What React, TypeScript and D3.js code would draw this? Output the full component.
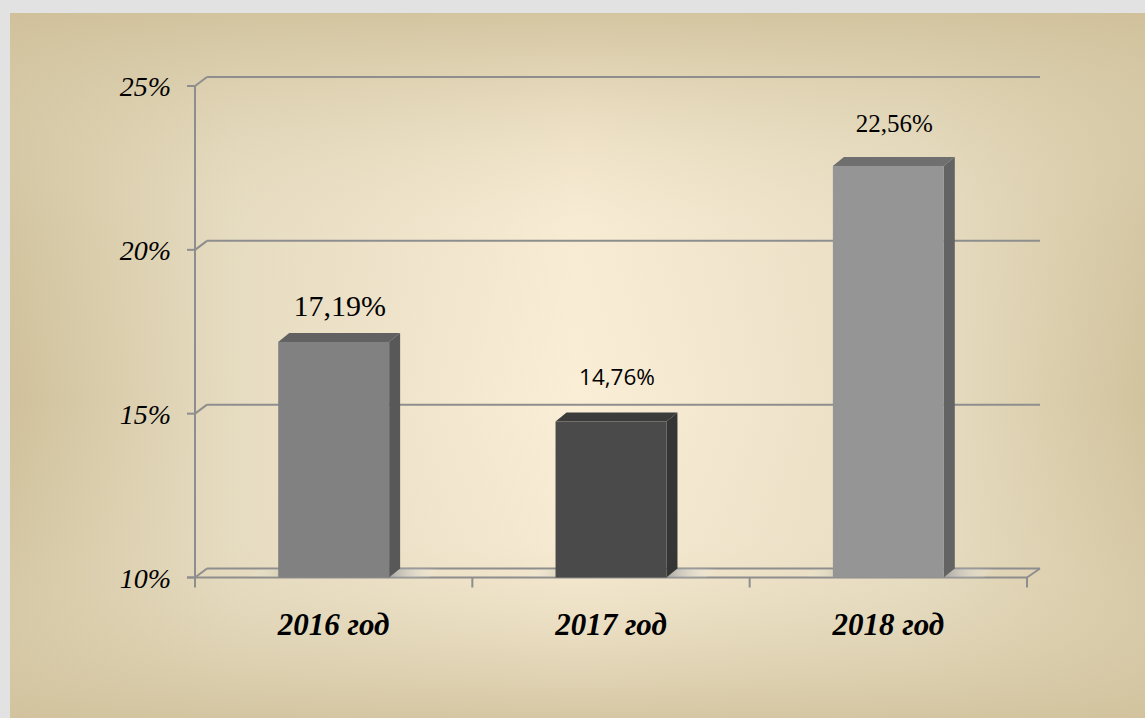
import React from "react";
import * as d3 from "d3";

const categories = ["2016 год", "2017 год", "2018 год"];
const values = [17.19, 14.76, 22.56];
const valueLabels = ["17,19%", "14,76%", "22,56%"];
const yTicks = [10, 15, 20, 25];
const yTickLabels = ["10%", "15%", "20%", "25%"];

const barColors = [
  { front: "#818181", top: "#616161", side: "#585858" },
  { front: "#4a4a4a", top: "#3b3b3b", side: "#353535" },
  { front: "#959595", top: "#6f6f6f", side: "#636363" },
];
const labelStyles = [
  { family: "'Liberation Serif', 'Times New Roman', serif", size: 30, gap: 26 },
  { family: "'Open Sans', 'Liberation Sans', Arial, sans-serif", size: 22.5, gap: 37 },
  { family: "'Liberation Serif', 'Times New Roman', serif", size: 25, gap: 34 },
];

const W = 1145;
const H = 718;
const left = 195;
const right = 1027;
const floorY = 577.5;
const topY = 86;
const dX = 12;
const dY = -9;
const bdX = 11;
const bdY = -9;
const axisColor = "#8e8e8e";

export default function App() {
  const x = d3.scaleBand<string>().domain(categories).range([left, right]).padding(0);
  const y = d3.scaleLinear().domain([10, 25]).range([floorY, topY]);
  const bw = x.bandwidth() * 0.4;

  return (
    <svg
      width={W}
      height={H}
      style={{ position: "fixed", left: 0, top: 0, display: "block" }}
    >
      <defs>
        <linearGradient id="bgH" x1="0" x2="1" y1="0" y2="0">
          <stop offset="0" stopColor="#d0c19b" />
          <stop offset="0.2" stopColor="#e6dcc1" />
          <stop offset="0.5" stopColor="#fbeed7" />
          <stop offset="0.8" stopColor="#e8dec3" />
          <stop offset="1" stopColor="#d2c39e" />
        </linearGradient>
        <linearGradient id="bgV" x1="0" x2="0" y1="0" y2="1">
          <stop offset="0" stopColor="#d0c19b" stopOpacity="0.9" />
          <stop offset="0.3" stopColor="#e6dcc1" stopOpacity="0.15" />
          <stop offset="0.55" stopColor="#e6dcc1" stopOpacity="0" />
          <stop offset="0.75" stopColor="#e6dcc1" stopOpacity="0.2" />
          <stop offset="1" stopColor="#d2c39e" stopOpacity="0.9" />
        </linearGradient>
        <linearGradient id="shadow" x1="0" x2="1" y1="0" y2="0">
          <stop offset="0" stopColor="#9a9a9a" stopOpacity="0.8" />
          <stop offset="1" stopColor="#ffffff" stopOpacity="0" />
        </linearGradient>
        <linearGradient id="shadowL" x1="1" x2="0" y1="0" y2="0">
          <stop offset="0" stopColor="#b0a890" stopOpacity="0.5" />
          <stop offset="1" stopColor="#ffffff" stopOpacity="0" />
        </linearGradient>
      </defs>
      <rect x={0} y={0} width={W} height={H} fill="#e2e2e2" />
      <rect x={10} y={13} width={W - 10} height={H - 13} fill="url(#bgH)" />
      <rect x={10} y={13} width={W - 10} height={H - 13} fill="url(#bgV)" />

      {/* gridlines: back wall + side wall */}
      {yTicks.map((t) => (
        <g key={"g" + t}>
          <line
            x1={left}
            y1={y(t)}
            x2={left + dX}
            y2={y(t) + dY}
            stroke={axisColor}
            strokeWidth={2}
          />
          <line
            x1={left + dX}
            y1={y(t) + dY}
            x2={right + dX + 1}
            y2={y(t) + dY}
            stroke={axisColor}
            strokeWidth={2}
          />
          <line x1={left - 8} y1={y(t)} x2={left} y2={y(t)} stroke={axisColor} strokeWidth={2} />
        </g>
      ))}
      {/* floor */}
      <line x1={left - 8} y1={floorY} x2={right} y2={floorY} stroke={axisColor} strokeWidth={2} />
      <line
        x1={right}
        y1={floorY}
        x2={right + dX + 1}
        y2={floorY + dY}
        stroke={axisColor}
        strokeWidth={2}
      />
      <line x1={left} y1={topY} x2={left} y2={floorY + 10} stroke={axisColor} strokeWidth={2} />
      {[...categories.map((c) => x(c)!), right].map((v, i) =>
        i === 0 ? null : (
          <line key={"ct" + i} x1={v} y1={floorY} x2={v} y2={floorY + 10} stroke={axisColor} strokeWidth={2} />
        )
      )}

      {/* bars */}
      {categories.map((c, i) => {
        const cx = x(c)! + x.bandwidth() / 2;
        const x0 = cx - bw / 2;
        const x1 = cx + bw / 2;
        const yt = y(values[i]);
        const col = barColors[i];
        return (
          <g key={c}>
            <polygon
              points={`${x1},${floorY} ${x1 + 40},${floorY} ${x1 + 40 + bdX},${floorY + bdY} ${x1 + bdX},${floorY + bdY}`}
              fill="url(#shadow)"
            />
            <polygon
              points={`${x0 - 30},${floorY - 1} ${x0},${floorY - 1} ${x0 + bdX},${floorY + bdY + 1} ${x0 - 30 + bdX},${floorY + bdY + 1}`}
              fill="url(#shadowL)"
            />
            <polygon
              points={`${x0},${yt} ${x0 + bdX},${yt + bdY} ${x1 + bdX},${yt + bdY} ${x1},${yt}`}
              fill={col.top}
            />
            <polygon
              points={`${x1},${yt} ${x1 + bdX},${yt + bdY} ${x1 + bdX},${floorY + bdY} ${x1},${floorY}`}
              fill={col.side}
            />
            <rect x={x0} y={yt} width={bw} height={floorY - yt} fill={col.front} />
            <text
              x={cx + 6}
              y={yt - labelStyles[i].gap}
              textAnchor="middle"
              fontFamily={labelStyles[i].family}
              fontSize={labelStyles[i].size}
              fill="#000"
            >
              {valueLabels[i]}
            </text>
            <text
              x={cx}
              y={635}
              textAnchor="middle"
              fontFamily="'Liberation Serif', 'Times New Roman', serif"
              fontStyle="italic"
              fontWeight="bold"
              fontSize={31}
              fill="#000"
            >
              {c}
            </text>
          </g>
        );
      })}

      {/* y labels */}
      {yTicks.map((t, i) => (
        <text
          key={"yl" + t}
          x={171}
          y={y(t) + 10}
          textAnchor="end"
          fontFamily="'Liberation Serif', 'Times New Roman', serif"
          fontStyle="italic"
          fontSize={28}
          fill="#000"
        >
          {yTickLabels[i]}
        </text>
      ))}
    </svg>
  );
}
